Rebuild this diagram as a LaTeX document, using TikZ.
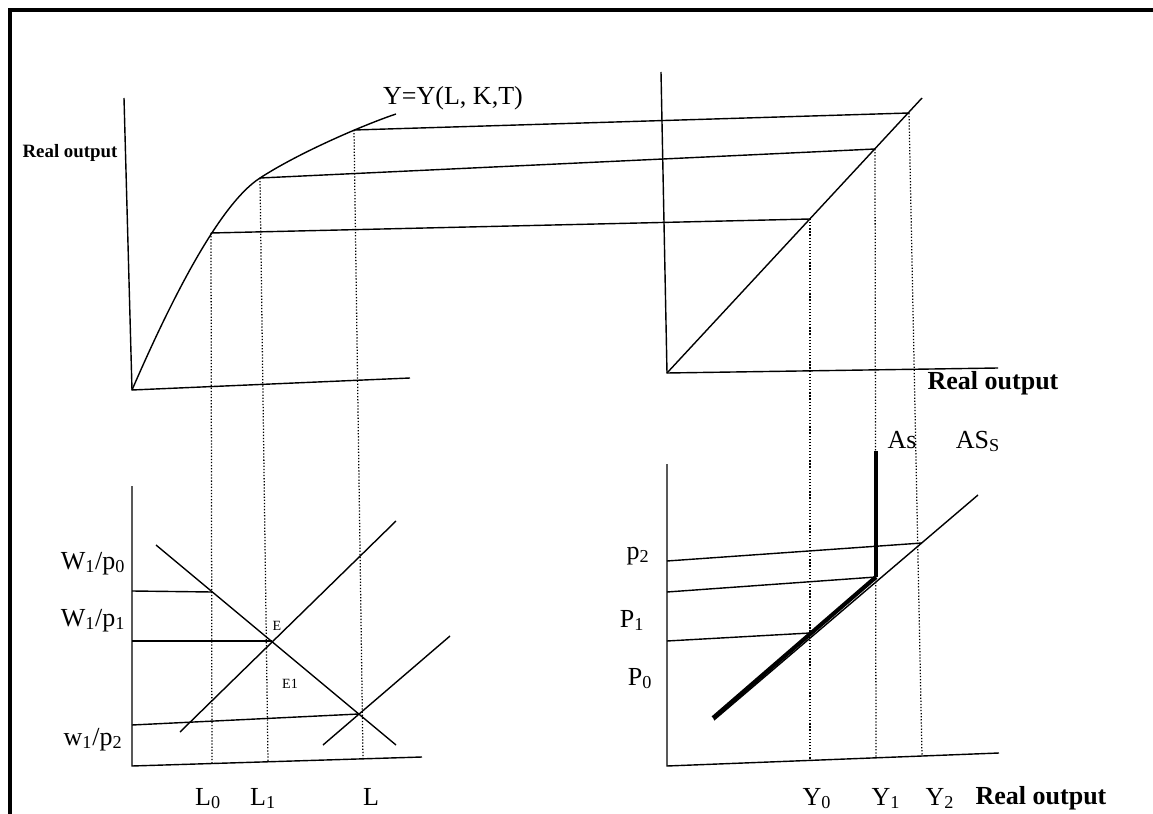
\documentclass[tikz,border=0pt]{standalone}
\usepackage{fontspec}
\setmainfont{Liberation Serif}
\begin{document}
\begin{tikzpicture}[x=0.025cm, y=-0.025cm, line width=1pt,
	lbl/.style = {font=\fontsize{18.5}{20}\selectfont, inner sep=0pt, anchor=base},
	axlbl/.style = {font=\bfseries\fontsize{18.5}{20}\selectfont, inner sep=0pt, anchor=base},
	small/.style = {font=\fontsize{10}{11}\selectfont, inner sep=0pt, anchor=base},
	guide/.style = {line width=0.9pt, dash pattern=on 0.9pt off 1.3pt}]
\useasboundingbox (0,0) rectangle (1153,814);
\draw[line width=3pt] (10,814) -- (10,10) -- (1153,10);
% production function
\coordinate (O1) at (132,390);
\coordinate (A0) at (211,233);
\coordinate (A1) at (260,178);
\coordinate (A2) at (354,130);
\coordinate (Aend) at (396,114);
\draw (124,98) -- (O1) -- (410,378);
\draw (O1) .. controls (162,321) and (215,207) .. (A1)
	.. controls (300,152) and (366,124) .. (Aend);
\node[axlbl, font=\bfseries\fontsize{13.4}{15}\selectfont] (ylab1) at (70,158) {Real output};
\node[lbl] (prod) at (453,105) {Y=Y(L, K,T)};
% 45 degree line
\coordinate (O2) at (667,373);
\coordinate (B0) at (810,219);
\coordinate (B1) at (875,149);
\coordinate (B2) at (909,113);
\draw (661,72) -- (O2) -- (998,368);
\draw (O2) -- (922,98);
\node[axlbl] (xlab2) at (993,390) {Real output};
\foreach \a/\b in {A0/B0, A1/B1, A2/B2}
{
	\draw (\a) -- (\b);
}
% labour market
\coordinate (O3) at (132,766);
\coordinate (C0) at (212,592);
\coordinate (E) at (272,641);
\coordinate (C2) at (359,714);
\draw (132,486) -- (O3) -- (422,757);
\draw (156,545) -- (396,745);
\draw (180,732) -- (396,521);
\draw (323,745) -- (450,636);
\draw (132,591) -- (C0);
\draw (132,641) -- (E);
\draw (132,725) -- (C2);
\draw[guide] (A0) -- (212,764);
\draw[guide] (A1) -- (268,762);
\draw[guide] (A2) -- (363,759);
\node[lbl] (w0) at (93,569) {W\textsubscript{1}/p\textsubscript{0}};
\node[lbl] (w1) at (93,626) {W\textsubscript{1}/p\textsubscript{1}};
\node[lbl] (w2) at (93,745) {w\textsubscript{1}/p\textsubscript{2}};
\node[small] (elab) at (277,630) {E};
\node[small] (e1lab) at (290,688) {E1};
\node[lbl] (l0) at (208,805) {L\textsubscript{0}};
\node[lbl] (l1) at (263,805) {L\textsubscript{1}};
\node[lbl] (l2) at (371,805) {L};
% aggregate supply
\coordinate (O4) at (667,766);
\coordinate (D0) at (810,633);
\coordinate (D1) at (876,577);
\coordinate (D2) at (922,543);
\draw (667,464) -- (O4) -- (999,753);
\draw (667,561) -- (D2);
\draw (667,592) -- (D1);
\draw (667,641) -- (D0);
\draw (714,720) -- (978,495);
\draw[line width=3.5pt] (876,451) -- (D1);
\draw[line width=3pt] (D1) -- (713,718);
\draw[guide] (B0) -- (810,761);
\draw[guide] (B1) -- (876,758);
\draw[guide] (B2) -- (922,756);
\node[lbl] (p2) at (638,559) {p\textsubscript{2}};
\node[lbl] (p1) at (632,627) {P\textsubscript{1}};
\node[lbl] (p0) at (640,685) {P\textsubscript{0}};
\node[lbl] (as) at (902,448) {As};
\node[lbl] (ass) at (978,448) {AS\textsubscript{S}};
\node[lbl] (y0) at (817,805) {Y\textsubscript{0}};
\node[lbl] (y1) at (886,805) {Y\textsubscript{1}};
\node[lbl] (y2) at (940,805) {Y\textsubscript{2}};
\node[axlbl] (xlab4) at (1041,804) {Real output};
\end{tikzpicture}
\end{document}
